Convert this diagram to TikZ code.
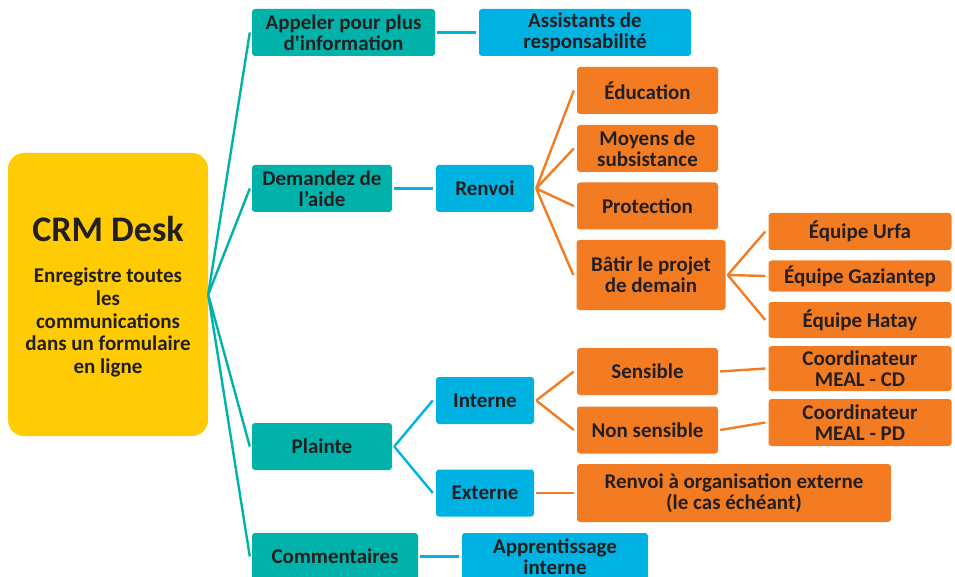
\documentclass[tikz,border=0pt]{standalone}
\usepackage{fontspec}
\setmainfont{Carlito}[Ligatures=TeXOff]
\usepackage{tikz}
\usetikzlibrary{positioning}
\definecolor{crmyellow}{HTML}{FFCB05}
\definecolor{crmteal}{HTML}{00B2A9}
\definecolor{crmblue}{HTML}{00B2E2}
\definecolor{crmorange}{HTML}{F37C22}
\definecolor{crmtext}{HTML}{231F20}
\tikzset{
  box/.style={rounded corners=3pt, inner sep=0pt, align=center, text=crmtext,
    font=\fontsize{21}{21}\selectfont\bfseries},
  boxsize/.style 2 args={minimum width=#1pt, minimum height=#2pt},
  tealbox/.style={box, fill=crmteal},
  bluebox/.style={box, fill=crmblue},
  orangebox/.style={box, fill=crmorange},
  tealline/.style={draw=crmteal, line width=2.4pt},
  blueline/.style={draw=crmblue, line width=2.4pt},
  orangeline/.style={draw=crmorange, line width=2.4pt}
}

\begin{document}
\begin{tikzpicture}[x=1pt,y=-1pt]
  \useasboundingbox (0,0) rectangle (955,577);
  \clip (0,0) rectangle (955,577);

  % Nodes
  \node[box, fill=crmyellow, rounded corners=16pt, boxsize={200}{283}] (crm) at (108,294.5) {};
  \node[text=crmtext, font=\fontsize{36}{40}\selectfont\bfseries] (crmtitle) at (108,229) {CRM Desk};
  \node[text=crmtext, align=center, font=\fontsize{21}{22.8}\selectfont\bfseries] (crmsub) at (108,322.5)
    {Enregistre toutes\\les\\communications\\dans un formulaire\\en ligne};

  \node[tealbox, boxsize={183}{47}] (appeler) at (343.5,32.5) {Appeler pour plus\\d'information};
  \node[bluebox, boxsize={212}{47}] (assist) at (585,32.5) {Assistants de\\responsabilité};

  \node[tealbox, boxsize={140}{47}] (demandez) at (322,188.5) {Demandez de\\l’aide};
  \node[bluebox, boxsize={98}{47}] (renvoi) at (485,188.5) {Renvoi};
  \node[orangebox, boxsize={141}{47}] (educ) at (647.5,90.5) {Éducation};
  \node[orangebox, boxsize={141}{47}] (moyens) at (647.5,148.5) {Moyens de\\subsistance};
  \node[orangebox, boxsize={141}{47}] (protec) at (647.5,206) {Protection};
  \node[orangebox, boxsize={149}{70}] (batir) at (651,275) {Bâtir le projet\\de demain};
  \node[orangebox, boxsize={183}{37}] (urfa) at (860,231.5) {Équipe Urfa};
  \node[orangebox, boxsize={183}{31}] (gazi) at (860,276) {Équipe Gaziantep};
  \node[orangebox, boxsize={183}{36}] (hatay) at (860,320) {Équipe Hatay};

  \node[tealbox, boxsize={140}{47}] (plainte) at (322,446.5) {Plainte};
  \node[bluebox, boxsize={98}{47}] (interne) at (485,400.5) {Interne};
  \node[bluebox, boxsize={98}{47}] (externe) at (485,493) {Externe};
  \node[orangebox, boxsize={141}{47}] (sensible) at (647.5,371.5) {Sensible};
  \node[orangebox, boxsize={141}{47}] (nonsens) at (647.5,430) {Non sensible};
  \node[orangebox, boxsize={183}{45}] (coordcd) at (860,368.5) {Coordinateur\\MEAL - CD};
  \node[orangebox, boxsize={183}{47}] (coordpd) at (860,422.5) {Coordinateur\\MEAL - PD};
  \node[orangebox, boxsize={314}{58}] (renvext) at (734,493) {Renvoi à organisation externe\\(le cas échéant)};

  \node[tealbox, boxsize={166}{47}] (comment) at (335,556.5) {Commentaires};
  \node[bluebox, boxsize={186}{47}] (apprent) at (555,556.5) {Apprentissage\\interne};

  % Lines
  \draw[tealline] (crm.east) -- ([xshift=-2pt]appeler.west);
  \draw[tealline] (crm.east) -- ([xshift=-2pt]demandez.west);
  \draw[tealline] (crm.east) -- ([xshift=-2pt]plainte.west);
  \draw[tealline] (crm.east) -- ([xshift=-2pt]comment.west);
  \draw[blueline] ([xshift=2pt]appeler.east) -- ([xshift=-3pt]assist.west);
  \draw[blueline] ([xshift=2pt]demandez.east) -- ([xshift=-3pt]renvoi.west);
  \draw[orangeline] ([xshift=2pt]renvoi.east) -- ([xshift=-3pt]educ.west);
  \draw[orangeline] ([xshift=2pt]renvoi.east) -- ([xshift=-3pt]moyens.west);
  \draw[orangeline] ([xshift=2pt]renvoi.east) -- ([xshift=-3pt]protec.west);
  \draw[orangeline] ([xshift=2pt]renvoi.east) -- ([xshift=-3pt]batir.west);
  \draw[orangeline] ([xshift=2pt]batir.east) -- ([xshift=-3pt]urfa.west);
  \draw[orangeline] ([xshift=2pt]batir.east) -- ([xshift=-3pt]gazi.west);
  \draw[orangeline] ([xshift=2pt]batir.east) -- ([xshift=-3pt]hatay.west);
  \draw[blueline] ([xshift=2pt]plainte.east) -- ([xshift=-3pt]interne.west);
  \draw[blueline] ([xshift=2pt]plainte.east) -- ([xshift=-3pt]externe.west);
  \draw[orangeline] ([xshift=2pt]interne.east) -- ([xshift=-3pt]sensible.west);
  \draw[orangeline] ([xshift=2pt]interne.east) -- ([xshift=-3pt]nonsens.west);
  \draw[orangeline] ([xshift=2pt]sensible.east) -- ([xshift=-3pt]coordcd.west);
  \draw[orangeline] ([xshift=2pt]nonsens.east) -- ([xshift=-3pt]coordpd.west);
  \draw[orangeline] ([xshift=2pt]externe.east) -- ([xshift=-3pt]renvext.west);
  \draw[blueline] ([xshift=2pt]comment.east) -- ([xshift=-3pt]apprent.west);
\end{tikzpicture}
\end{document}
